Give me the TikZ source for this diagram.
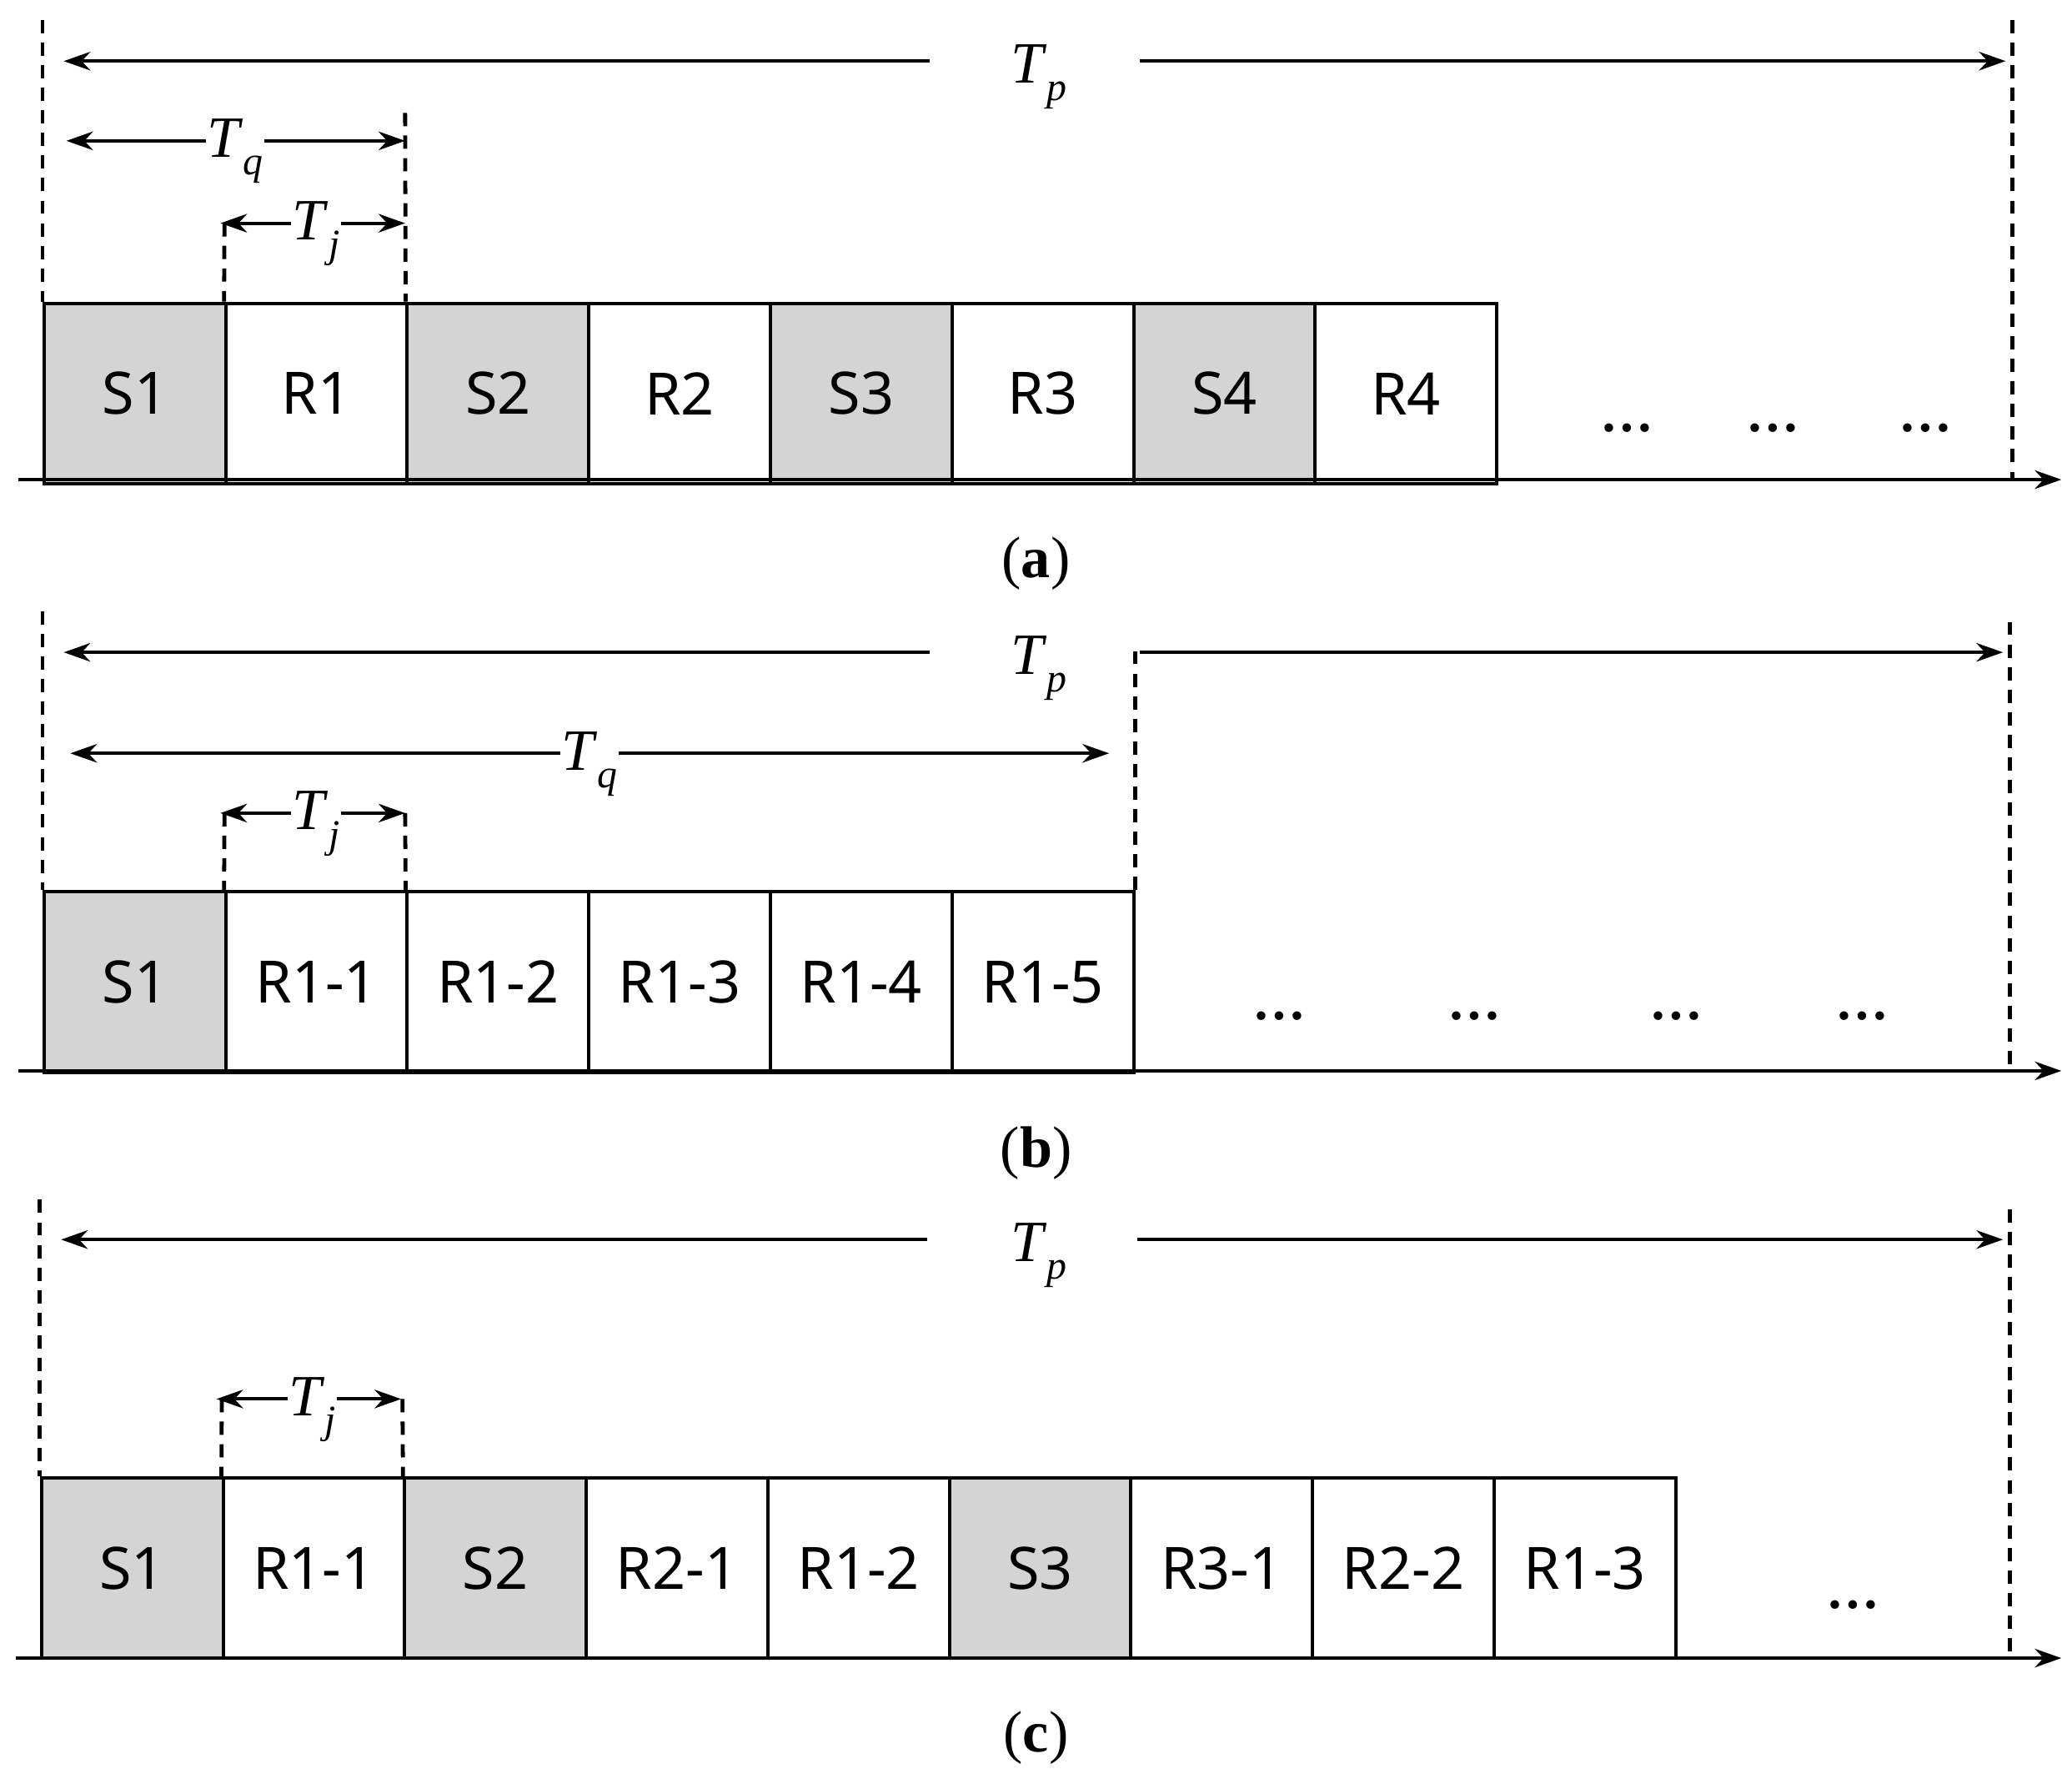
\documentclass[tikz,border=0pt]{standalone}
\usepackage{fontspec}
\newfontfamily\boxfont{Noto Sans}
\newfontfamily\tnr{Liberation Serif}
\usetikzlibrary{arrows.meta}
\newcommand{\Tsub}[1]{\textit{T}\raisebox{-0.3em}{\fontsize{30}{32}\selectfont\textit{#1}}}
\begin{document}
\begin{tikzpicture}[x=1pt,y=-1pt,
  cell/.style={draw,line width=2.5pt,minimum width=136.7pt,minimum height=136pt,inner sep=0pt,font=\boxfont\fontsize{44}{48}\selectfont,anchor=north west},
  gcell/.style={cell,fill=black!17},
  dim/.style={line width=2.5pt,-{Stealth[length=20pt,width=14pt]}},
  dimb/.style={line width=2.5pt,{Stealth[length=20pt,width=14pt]}-{Stealth[length=20pt,width=14pt]}},
  vdash/.style={line width=3pt,dash pattern=on 10pt off 7pt},
  lab/.style={font=\tnr\fontsize{44}{48}\selectfont,inner sep=1pt},
  captxt/.style={font=\tnr\fontsize{44}{48}\selectfont},
  dots/.style={font=\tnr\bfseries\fontsize{40}{44}\selectfont}]
\useasboundingbox (0,0) rectangle (1560,1338.5);
% ---------- (a)
\foreach \t/\g [count=\i from 0] in {S1/1,R1/0,S2/1,R2/0,S3/1,R3/0,S4/1,R4/0}{
  \ifnum\g=1 \node[gcell] (a\i) at (32+\i*136.7,227) {\t};\else \node[cell] (a\i) at (32+\i*136.7,227) {\t};\fi}
\coordinate (aax0) at (14,361); \coordinate (aax1) at (1552,361);
\draw[dim] (aax0) -- (aax1);
\coordinate (aL) at (32,15); \coordinate (aR0) at (1515,15); \coordinate (aR1) at (1515,361);
\draw[vdash] (aL) -- (a0.north west); \draw[vdash] (aR0) -- (aR1);
\node[lab] (aTp) at (782,58) {\Tsub{p}};
\coordinate (ap1) at (700,46); \coordinate (ap0) at (48,46);
\coordinate (ap2) at (858,46); \coordinate (ap3) at (1510,46);
\draw[dim] (ap1) -- (ap0); \draw[dim] (ap2) -- (ap3);
\coordinate (aq0) at (50,106); \coordinate (aq1) at (305,106);
\draw[dimb] (aq0) -- (aq1); \node[lab,fill=white] (aTq) at (177,114) {\Tsub{q}};
\coordinate (aqd) at (305,85); \draw[vdash] (aqd) -- (a2.north west);
\coordinate (aj0) at (166,168); \coordinate (aj1) at (305,168);
\draw[dimb] (aj0) -- (aj1); \node[lab,fill=white] (aTj) at (238,176) {\Tsub{j}};
\coordinate (ajd) at (169,168); \draw[vdash] (ajd) -- (a1.north west);
\foreach \x [count=\k] in {1225,1335,1450} \node[dots] (ad\k) at (\x,322) {\dots};
\node[captxt] (capa) at (780,424) {(\textbf{a})};
% ---------- (b)
\foreach \t/\g [count=\i from 0] in {S1/1,R1-1/0,R1-2/0,R1-3/0,R1-4/0,R1-5/0}{
  \ifnum\g=1 \node[gcell] (b\i) at (32+\i*136.7,670) {\t};\else \node[cell] (b\i) at (32+\i*136.7,670) {\t};\fi}
\coordinate (bax0) at (14,806); \coordinate (bax1) at (1552,806);
\draw[dim] (bax0) -- (bax1);
\coordinate (bL) at (32,460); \coordinate (bR0) at (1513,468); \coordinate (bR1) at (1513,806);
\draw[vdash] (bL) -- (b0.north west); \draw[vdash] (bR0) -- (bR1);
\node[lab] (bTp) at (782,503) {\Tsub{p}};
\coordinate (bp1) at (700,491); \coordinate (bp0) at (48,491);
\coordinate (bp2) at (858,491); \coordinate (bp3) at (1508,491);
\draw[dim] (bp1) -- (bp0); \draw[dim] (bp2) -- (bp3);
\coordinate (bq0) at (53,567); \coordinate (bq1) at (835,567);
\draw[dimb] (bq0) -- (bq1); \node[lab,fill=white] (bTq) at (444,575) {\Tsub{q}};
\draw[vdash] (b5.north east) -- ++(0,-180);
\coordinate (bj0) at (166,612); \coordinate (bj1) at (305,612);
\draw[dimb] (bj0) -- (bj1); \node[lab,fill=white] (bTj) at (238,620) {\Tsub{j}};
\coordinate (bjd) at (169,612); \draw[vdash] (bjd) -- (b1.north west);
\coordinate (bjd2) at (305,612); \draw[vdash] (bjd2) -- (b2.north west);
\foreach \x [count=\k] in {963,1110,1262,1402} \node[dots] (bd\k) at (\x,765) {\dots};
\node[captxt] (capb) at (780,868) {(\textbf{b})};
% ---------- (c)
\foreach \t/\g [count=\i from 0] in {S1/1,R1-1/0,S2/1,R2-1/0,R1-2/0,S3/1,R3-1/0,R2-2/0,R1-3/0}{
  \ifnum\g=1 \node[gcell] (c\i) at (30+\i*136.7,1111) {\t};\else \node[cell] (c\i) at (30+\i*136.7,1111) {\t};\fi}
\coordinate (cax0) at (12,1248); \coordinate (cax1) at (1552,1248);
\draw[dim] (cax0) -- (cax1);
\coordinate (cL) at (30,903); \coordinate (cR0) at (1513,910); \coordinate (cR1) at (1513,1248);
\draw[vdash] (cL) -- (c0.north west); \draw[vdash] (cR0) -- (cR1);
\node[lab] (cTp) at (782,945) {\Tsub{p}};
\coordinate (cp1) at (698,933); \coordinate (cp0) at (46,933);
\coordinate (cp2) at (856,933); \coordinate (cp3) at (1508,933);
\draw[dim] (cp1) -- (cp0); \draw[dim] (cp2) -- (cp3);
\coordinate (cj0) at (163,1053); \coordinate (cj1) at (302,1053);
\draw[dimb] (cj0) -- (cj1); \node[lab,fill=white] (cTj) at (235,1061) {\Tsub{j}};
\coordinate (cjd) at (167,1053); \draw[vdash] (cjd) -- (c1.north west);
\coordinate (cjd2) at (303,1053); \draw[vdash] (cjd2) -- (c2.north west);
\node[dots] (cd1) at (1395,1208) {\dots};
\node[captxt] (capc) at (780,1308) {(\textbf{c})};
\end{tikzpicture}
\end{document}
